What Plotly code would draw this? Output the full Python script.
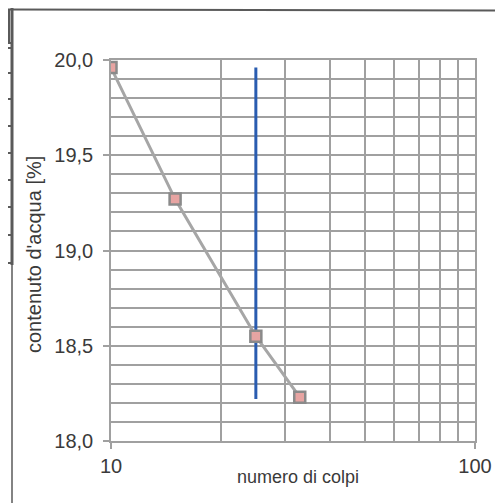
import plotly.graph_objects as go

colpi = [10, 15, 25, 33]
acqua = [19.96, 19.27, 18.55, 18.23]
blu_x = [25, 25]
blu_y = [18.22, 19.96]
x_minor = [20, 30, 40, 50, 60, 70, 80, 90]
x_ticks = [10, 100]
x_ticktext = ["10", "100"]
y_ticks = [18.0, 18.5, 19.0, 19.5, 20.0]
y_ticktext = ["18,0", "18,5", "19,0", "19,5", "20,0"]

# page body adds an 8px offset; plot area on screen: x 111..475, y 60..441
OFF = 8
W = H = 503
L, T = 111 - OFF, 60 - OFF
pw, ph = 364, 381
R = W - L - pw
B = H - T - ph

def px(x):
    return (x - 111) / pw

def py(y):
    return (441 - y) / ph

grid = "#a0a0a0"
txt = "#3a3a3a"
fig = go.Figure()
fig.add_trace(go.Scatter(x=blu_x, y=blu_y, mode="lines",
                         line=dict(color="#2a5cb0", width=3), showlegend=False))
fig.add_trace(go.Scatter(x=colpi, y=acqua, mode="lines+markers",
                         line=dict(color="#a6a6a6", width=3),
                         marker=dict(symbol="square", size=11, color="#e7a4a2",
                                     line=dict(color="#8a8a8a", width=2.5)),
                         showlegend=False))

shapes = []
frame = "#5a5a5a"
shapes.append(dict(type="line", xref="paper", yref="paper", x0=px(8), x1=px(503),
                   y0=py(9.5), y1=py(10.5), line=dict(color=frame, width=2)))
shapes.append(dict(type="line", xref="paper", yref="paper", x0=px(12), x1=px(12),
                   y0=py(8), y1=py(265), line=dict(color=frame, width=3)))
shapes.append(dict(type="line", xref="paper", yref="paper", x0=px(12), x1=px(12),
                   y0=py(265), y1=py(503), line=dict(color=frame, width=1.5)))
shapes.append(dict(type="line", xref="paper", yref="paper", x0=px(9), x1=px(9),
                   y0=py(9), y1=py(43), line=dict(color=frame, width=2)))
for yy in [43, 48, 73, 99, 126, 153, 180, 207, 235, 263]:
    shapes.append(dict(type="line", xref="paper", yref="paper", x0=px(6), x1=px(12),
                       y0=py(yy), y1=py(yy), line=dict(color=frame, width=2)))

annotations = [
    dict(text="numero di colpi", xref="paper", yref="paper", x=px(298), y=py(477),
         xanchor="center", yanchor="middle", showarrow=False,
         font=dict(size=18, color=txt)),
    dict(text="contenuto d'acqua [%]", xref="paper", yref="paper", x=px(34), y=py(255),
         xanchor="center", yanchor="middle", showarrow=False, textangle=-90,
         font=dict(size=20, color=txt)),
]

fig.update_layout(
    width=W, height=H,
    margin=dict(l=L, r=R, t=T, b=B),
    paper_bgcolor="white", plot_bgcolor="white",
    separators=",.",
    font=dict(family="Liberation Sans, Arial, sans-serif", color=txt),
    shapes=shapes,
    annotations=annotations,
    xaxis=dict(type="log", range=[1, 2], tickvals=x_ticks, ticktext=x_ticktext,
               showgrid=True, gridcolor=grid, gridwidth=1.5,
               ticks="outside", ticklen=6, tickcolor=grid, tickwidth=1.5,
               showline=True, linecolor=grid, linewidth=1.5, mirror=True,
               tickfont=dict(size=20, color=txt),
               minor=dict(tickvals=x_minor, showgrid=True, gridcolor=grid, gridwidth=1.5, ticks=""),
               zeroline=False),
    yaxis=dict(range=[18, 20], tickvals=y_ticks, ticktext=y_ticktext,
               showgrid=True, gridcolor=grid, gridwidth=1.5,
               ticks="outside", ticklen=6, tickcolor=grid, tickwidth=1.5,
               showline=True, linecolor=grid, linewidth=1.5, mirror=True,
               tickfont=dict(size=20, color=txt), ticklabelstandoff=6,
               minor=dict(dtick=0.1, showgrid=True, gridcolor=grid, gridwidth=1.5, ticks=""),
               zeroline=False),
)
fig.write_html("out.html")
